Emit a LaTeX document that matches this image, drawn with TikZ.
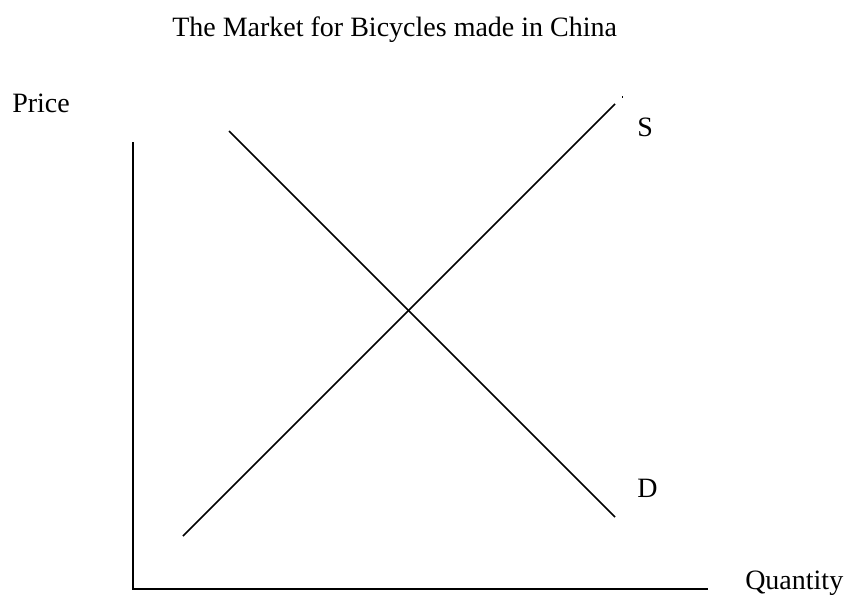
\documentclass[tikz,border=0pt]{standalone}
\usepackage{fontspec}
\setmainfont{Liberation Serif}
\begin{document}
\begin{tikzpicture}[x=0.75pt,y=-0.75pt,
  axisline/.style={line width=1.6pt,black},
  curve/.style={line width=1.3pt,black},
  lbl/.style={inner sep=0pt,anchor=base west,font=\fontsize{21}{25}\selectfont}]
\useasboundingbox (0,0) rectangle (848,595);
% axes
\coordinate (ytop) at (133,143);
\coordinate (origin) at (133,589);
\coordinate (xend) at (707,589);
\draw[axisline,line cap=rect] (ytop) -- (origin) -- (xend);
% supply
\coordinate (s1) at (183,536);
\coordinate (s2) at (615,104);
\draw[curve] (s1) -- (s2);
% demand
\coordinate (d1) at (229,131);
\coordinate (d2) at (615,517);
\draw[curve] (d1) -- (d2);
% stray dot
\fill (621.5,96.5) rectangle (622.7,97.7);
% labels
\node[lbl] (title) at (172,37) {The Market for Bicycles made in China};
\node[lbl] (price) at (12,113) {Price};
\node[lbl] (slbl) at (637,137) {S};
\node[lbl] (dlbl) at (637,497) {D};
\node[lbl] (qty) at (745,589) {Quantity};
\end{tikzpicture}
\end{document}
